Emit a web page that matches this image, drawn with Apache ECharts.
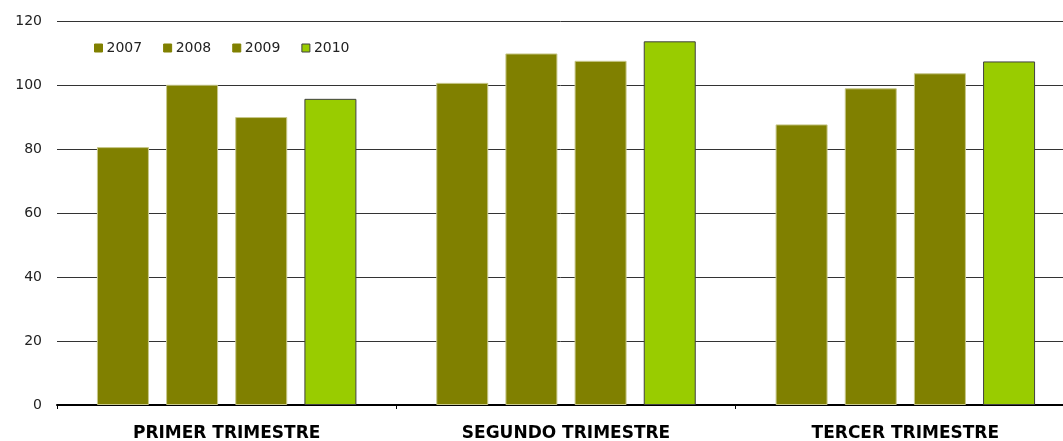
<!DOCTYPE html>
<html>
<head>
    <meta charset="utf-8">
    <script src="https://cdn.jsdelivr.net/npm/echarts@6/dist/echarts.min.js"></script>
    <style>
        body{
            margin:0;
            padding:0;
        }
    </style>
</head>
<body>
<div id="main" style="width:1063px;height:441px;"></div>
<script type="text/javascript">
// categories and values
let categories = ['PRIMER TRIMESTRE', 'SEGUNDO TRIMESTRE', 'TERCER TRIMESTRE'];
let years = ['2007', '2008', '2009', '2010'];
let v2007 = [80.7, 100.8, 87.8];
let v2008 = [100.2, 110, 99.1];
let v2009 = [90.1, 107.7, 103.8];
let v2010 = [95.8, 113.8, 107.5];
let yTicks = [0, 20, 40, 60, 80, 100, 120];

let seriesData = [v2007, v2008, v2009, v2010];
let fillColors = ['#808000', '#808000', '#808000', '#99cc00'];
let borderColors = ['#c8c88a', '#c8c88a', '#c8c88a', '#404040'];

var myChart = echarts.init(document.getElementById('main'));

let series = [];
for (let i = 0; i < years.length; i++) {
  series.push({
    name: years[i],
    type: 'bar',
    barWidth: 52,
    barGap: '33%',
    itemStyle: {
      color: fillColors[i],
      borderColor: borderColors[i],
      borderWidth: 1
    },
    data: seriesData[i]
  });
}

option = {
  animation: false,
  textStyle: { fontFamily: 'DejaVu Sans' },
  grid: {
    left: 57,
    width: 1018,
    top: 21.5,
    bottom: 36,
    containLabel: false,
    outerBoundsMode: 'none'
  },
  legend: {
    left: 89,
    top: 36,
    itemWidth: 8,
    itemHeight: 8,
    itemGap: 21,
    icon: 'rect',
    textStyle: { fontSize: 14, color: '#222', padding: [0, 0, 0, -1] },
    data: years.map(function (y, i) {
      return { name: y, itemStyle: { borderColor: i === 3 ? '#404040' : fillColors[i], borderWidth: 1 } };
    })
  },
  xAxis: {
    type: 'category',
    data: categories,
    axisLine: { lineStyle: { color: '#000', width: 2 } },
    axisTick: { show: true, length: 4, lineStyle: { color: '#000', width: 1 } },
    axisLabel: {
      fontSize: 17,
      fontWeight: 'bold',
      color: '#000',
      margin: 20
    }
  },
  yAxis: {
    type: 'value',
    min: yTicks[0],
    max: yTicks[yTicks.length - 1],
    interval: 20,
    axisLine: { show: false },
    axisTick: { show: false },
    splitLine: { lineStyle: { color: '#333', width: 1 } },
    axisLabel: { fontSize: 14, color: '#222', margin: 15 }
  },
  series: series
};
myChart.setOption(option);
</script>
</body>
</html>
